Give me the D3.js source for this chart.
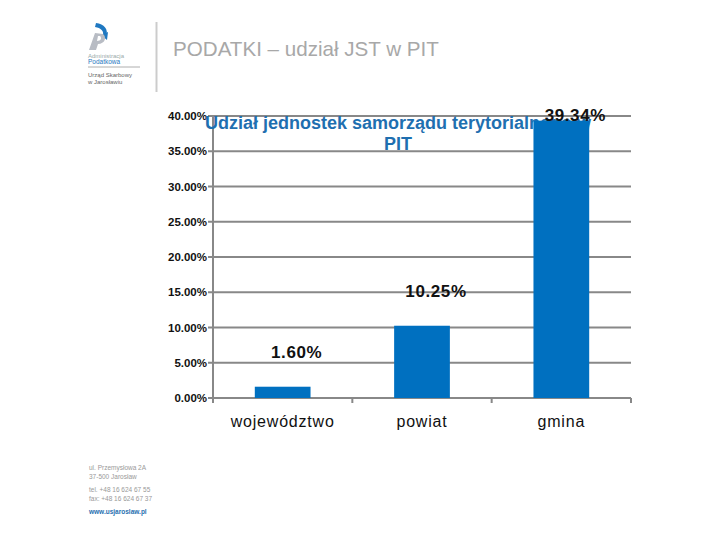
<!DOCTYPE html>
<html><head><meta charset="utf-8">
<script src="https://cdn.jsdelivr.net/npm/d3@7"></script>
<style>body{margin:0;background:#fff;}svg{display:block;font-family:"Liberation Sans",Arial,sans-serif;}</style>
</head><body>
<svg id="c" width="720" height="540"></svg>
<script>
const categories = ["województwo", "powiat", "gmina"];
const values = [1.60, 10.25, 39.34];
const valueLabels = ["1.60%", "10.25%", "39.34%"];
const yTicks = [0, 5, 10, 15, 20, 25, 30, 35, 40];
const chartTitle = ["Udział jednostek samorządu terytorialnego w", "PIT"];
const pageTitle = "PODATKI – udział JST w PIT";
const footerLines = ["ul. Przemysłowa 2A", "37-500 Jarosław", "", "tel. +48 16 624 67 55", "fax: +48 16 624 67 37", "", "www.usjaroslaw.pl"];

const svg = d3.select("#c");
const m = {l: 213, r: 631, t: 116, b: 398};
const x = d3.scaleBand().domain(categories).range([m.l, m.r]).paddingInner(0.6).paddingOuter(0.3);
const y = d3.scaleLinear().domain([0, 40]).range([m.b, m.t]);

// header logo
const logo = svg.append("g");
logo.append("path").attr("d","M96,23 C104,24 109,29 106,37 L103,35 C104,31 101,28 95,27 Z").attr("fill","#1f78c1");
logo.append("path").attr("d","M101,35 L108,32 L107,40 Z").attr("fill","#1f78c1");
logo.append("path").attr("d","M89,50 L95,33 L103,34 C107,37 105,44 98,44 L96,50 Z M97,41 C101,41 102,38 100,36 L98,36 Z").attr("fill","#b8bcc4");
logo.append("text").attr("x",88).attr("y",58).attr("font-size",6).attr("fill","#9aa").text("Administracja");
logo.append("text").attr("x",88).attr("y",64).attr("font-size",6.5).attr("fill","#1f78c1").text("Podatkowa");
logo.append("line").attr("x1",88).attr("x2",140).attr("y1",67).attr("y2",67).attr("stroke","#999").attr("stroke-width",0.8);
logo.append("text").attr("x",88).attr("y",77).attr("font-size",6).attr("fill","#666").text("Urząd Skarbowy");
logo.append("text").attr("x",88).attr("y",84).attr("font-size",6).attr("fill","#666").text("w Jarosławiu");
svg.append("line").attr("x1",156.5).attr("x2",156.5).attr("y1",22).attr("y2",92).attr("stroke","#ccc").attr("stroke-width",2);
svg.append("text").attr("x",173).attr("y",56).attr("font-size",20.6).attr("fill","#a8a8a8").text(pageTitle);

// footer
const ft = svg.append("g");
let fy = 470;
footerLines.forEach((t,i)=>{
  if(t==="") { fy += 4; return; }
  ft.append("text").attr("x",89).attr("y",fy).attr("font-size",6.5)
    .attr("fill", i===footerLines.length-1 ? "#1f6fb0" : "#999")
    .attr("font-weight", i===footerLines.length-1 ? "bold" : "normal").text(t);
  fy += 9;
});

// gridlines
svg.append("g").selectAll("line").data(yTicks).join("line")
  .attr("x1", m.l - 5).attr("x2", m.r).attr("y1", d=>y(d)).attr("y2", d=>y(d))
  .attr("stroke","#888").attr("stroke-width",2);
// y axis line
svg.append("line").attr("x1",m.l).attr("x2",m.l).attr("y1",m.t).attr("y2",m.b+5).attr("stroke","#888").attr("stroke-width",2);
// category boundary ticks
const bounds = [0,1,2,3].map(i => m.l + i*x.step());
svg.append("g").selectAll("line").data(bounds).join("line")
  .attr("x1",d=>d).attr("x2",d=>d).attr("y1",m.b).attr("y2",m.b+5).attr("stroke","#888").attr("stroke-width",2);

// y tick labels
svg.append("g").selectAll("text").data(yTicks).join("text")
  .attr("x", m.l - 6).attr("y", d=>y(d)+4).attr("text-anchor","end")
  .attr("font-size",11.5).attr("font-weight","bold").attr("fill","#111")
  .text(d=>d.toFixed(2)+"%");

// chart title
const tt = svg.append("text").attr("text-anchor","middle").attr("font-size",18).attr("font-weight","bold").attr("fill","#1f6fb0");
chartTitle.forEach((t,i)=>tt.append("tspan").attr("x",398).attr("y",129+i*21).text(t));

// bars
svg.append("g").selectAll("rect").data(values).join("rect")
  .attr("x",(d,i)=>x(categories[i])).attr("width",x.bandwidth())
  .attr("y",d=>y(d)).attr("height",d=>m.b-y(d)).attr("fill","#0070c0");

// value labels
svg.append("g").selectAll("text").data(values).join("text")
  .attr("x",(d,i)=>x(categories[i])+x.bandwidth()/2 + 14)
  .attr("y",d=>Math.max(y(d)-29, 121)).attr("text-anchor","middle")
  .attr("font-size",17).attr("font-weight","bold").attr("fill","#111").attr("letter-spacing",0.6)
  .text((d,i)=>valueLabels[i]);

// category labels
svg.append("g").selectAll("text").data(categories).join("text")
  .attr("x",d=>x(d)+x.bandwidth()/2).attr("y",427).attr("text-anchor","middle")
  .attr("font-size",16).attr("fill","#111").attr("letter-spacing",0.8).text(d=>d);
</script>
</body></html>
